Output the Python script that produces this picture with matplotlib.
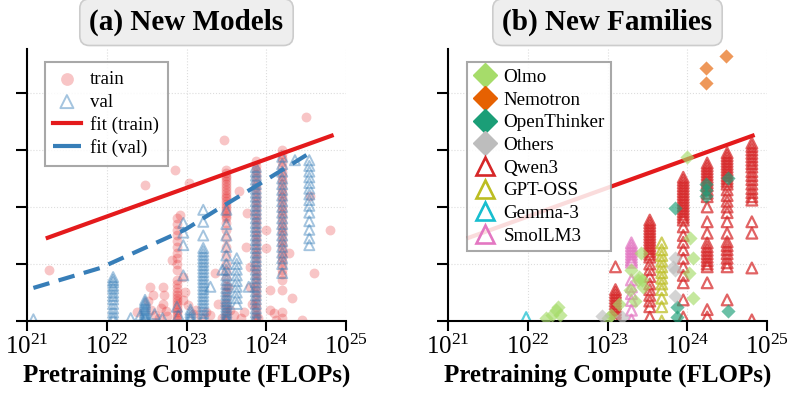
import numpy as np
import matplotlib
matplotlib.use("Agg")
import matplotlib.pyplot as plt
from matplotlib.lines import Line2D

plt.rcParams["font.family"] = ["Liberation Serif", "DejaVu Serif"]
plt.rcParams["mathtext.fontset"] = "stix"

# ---------------- (a) New Models: log10(compute) and metric ----------------
train_cols_exp = [23.50, 23.87, 24.20, 22.88]
train_cols_vals = [
    [2.65, 2.6, 2.55, 2.5, 2.45, 2.4, 2.35, 2.3, 2.25, 2.2, 2.15, 2.1, 2.05, 2.0, 1.95, 1.9, 1.85, 1.8,
     1.72, 1.6, 1.45, 1.3, 1.15, 1.0, 0.88, 0.75, 0.62, 0.5, 0.4, 0.3, 0.22, 0.15, 0.08, 0.03],
    [2.8, 2.72, 2.65, 2.58, 2.5, 2.42, 2.35, 2.28, 2.2, 2.12, 2.05, 1.98, 1.9, 1.82, 1.75, 1.68, 1.6,
     1.52, 1.45, 1.38, 1.3, 1.22, 1.15, 1.08, 1.0, 0.92, 0.85, 0.78, 0.7, 0.62, 0.55, 0.48, 0.4, 0.32,
     0.25, 0.18, 0.1, 0.05],
    [3.0, 2.92, 2.85, 2.78, 2.7, 2.62, 2.55, 2.48, 2.4, 2.32, 2.25, 2.18, 2.1, 2.02, 1.95, 1.88, 1.8,
     1.72, 1.65, 1.58, 1.5, 1.42, 1.35, 1.28, 1.2, 1.12, 1.05, 0.98, 0.9, 0.82, 0.72, 0.54, 0.15, 0.05],
    [1.8, 1.7, 1.6, 1.5, 1.4, 1.3, 1.2, 1.1, 1.0, 0.9, 0.72, 0.65, 0.58, 0.5, 0.45, 0.4, 0.35, 0.3,
     0.25, 0.2, 0.15, 0.1, 0.05, 0.02],
]
train_pts_exp = [21.28, 22.38, 22.48, 22.52, 22.55, 22.58, 22.60, 22.54, 22.65, 22.70, 22.72, 22.70,
                 22.74, 22.68, 22.76, 22.82, 22.85, 22.92, 22.95, 22.98, 22.96, 23.03, 23.02, 23.08,
                 23.12, 23.18, 23.25, 23.30, 23.36, 23.40, 23.45, 23.47, 23.52, 23.55, 23.60, 23.66,
                 23.68, 23.72, 23.76, 23.75, 23.80, 23.80, 23.82, 24.00, 24.00, 24.05, 24.10, 24.12,
                 24.28, 24.32, 24.45, 24.50, 24.55, 24.60, 24.80, 23.90, 24.05]
train_pts_y = [0.90, 0.16, 2.38, 0.35, 0.20, 0.45, 0.10, 0.60, 0.05, 0.60, 0.45, 0.30,
               0.18, 0.23, 0.08, 1.07, 2.65, 1.86, 0.77, 0.50, 0.37, 2.42, 0.28, 0.12,
               0.20, 0.05, 0.15, 0.10, 0.84, 0.30, 0.05, 3.18, 0.60, 0.20, 0.10, 2.28,
               0.05, 0.15, 1.90, 1.30, 0.95, 0.60, 0.30, 1.60, 1.28, 0.54, 0.14, 0.02,
               1.20, 0.40, 0.02, 3.58, 2.20, 0.84, 1.60, 0.05, 0.20]

val_cols_exp = [22.08, 22.48, 23.05, 23.21, 23.50, 23.63, 23.87, 24.20, 24.54]
val_cols_vals = [
    [0.77, 0.72, 0.68, 0.62, 0.57, 0.5, 0.44, 0.38, 0.3, 0.22, 0.15, 0.08, 0.02],
    [0.37, 0.33, 0.3, 0.26, 0.22, 0.19, 0.15, 0.12, 0.08, 0.05, 0.02],
    [0.2, 0.15, 0.1, 0.06, 0.02],
    [1.95, 1.74, 1.5, 1.28, 1.22, 1.16, 1.1, 1.04, 0.98, 0.92, 0.86, 0.8, 0.74, 0.68, 0.62, 0.56, 0.5,
     0.44, 0.38, 0.32, 0.26, 0.2, 0.14, 0.08, 0.03],
    [1.95, 1.7, 1.5, 1.3, 1.15, 1.0, 0.9, 0.8, 0.72, 0.65, 0.58, 0.52, 0.46, 0.4, 0.35, 0.3, 0.25, 0.2,
     0.15, 0.1, 0.05, 0.02],
    [1.1, 1.0, 0.9, 0.8, 0.7, 0.6, 0.5, 0.4, 0.3],
    [2.7, 2.62, 2.55, 2.48, 2.4, 2.32, 2.25, 2.18, 2.1, 2.02, 1.95, 1.88, 1.8, 1.72, 1.65, 1.58, 1.5,
     1.42, 1.35, 1.28, 1.2, 1.12, 1.05, 0.98, 0.9, 0.82, 0.75, 0.68, 0.6, 0.52, 0.45, 0.38, 0.3, 0.22,
     0.15, 0.08, 0.02],
    [2.88, 2.75, 2.62, 2.5, 2.4, 2.3, 2.2, 2.1, 2.0, 1.9, 1.8, 1.7, 1.6, 1.5, 1.4, 1.3, 1.2, 1.1, 1.0, 0.84],
    [2.82, 2.72, 2.62, 2.52, 2.42, 2.32, 2.22, 2.12, 2.02, 1.9, 1.75, 1.6, 1.45, 1.33],
]
val_pts_exp = [21.08, 22.30, 22.42, 22.70, 22.96, 22.96, 22.96, 22.96, 22.88, 22.90, 22.60, 23.30,
               23.78, 24.36, 23.45]
val_pts_y = [0.03, 0.05, 0.10, 0.05, 1.72, 1.55, 1.33, 0.80, 0.25, 0.10, 0.12, 0.60,
             0.60, 2.82, 0.90]

fit_train_exp = [21.26, 24.82]
fit_train_y = [1.46, 3.25]
fit_val_exp = [21.08, 21.92, 22.98, 23.38, 23.83, 24.26, 24.55]
fit_val_y = [0.58, 0.93, 1.60, 1.95, 2.33, 2.70, 2.95]

# ---------------- (b) New Families ----------------
qwen_cols_exp = [23.10, 23.53, 23.95, 24.25, 24.50, 24.81]
qwen_cols_vals = [
    [0.55, 0.5, 0.45, 0.4, 0.35, 0.3, 0.25, 0.2, 0.15, 0.1, 0.05, 0.0, 0.95],
    [1.77, 1.72, 1.67, 1.62, 1.57, 1.52, 1.47, 1.42, 1.37, 1.32, 1.27, 1.22, 1.17, 1.12, 1.0, 0.9,
     0.78, 0.65, 0.55, 0.45, 0.35, 0.25, 0.07],
    [2.52, 2.47, 2.42, 2.37, 2.32, 2.27, 2.22, 2.17, 2.12, 2.07, 2.02, 1.97, 1.92, 1.87, 1.82, 1.77,
     1.65, 1.5, 1.38, 1.25, 1.1, 0.95, 0.8, 0.67, 0.37, 0.07],
    [2.77, 2.72, 2.67, 2.62, 2.57, 2.52, 2.47, 2.42, 2.37, 2.3, 2.24, 2.18, 2.0, 1.74, 1.54, 1.37,
     1.3, 1.24, 1.18, 1.12, 1.06, 1.0, 0.95, 0.67, 0.2, 0.07],
    [2.95, 2.9, 2.85, 2.8, 2.75, 2.7, 2.65, 2.6, 2.55, 2.5, 2.45, 2.4, 2.3, 2.2, 2.1, 2.0, 1.9, 1.74,
     1.54, 1.39, 1.32, 1.25, 1.18, 1.1, 1.02, 0.95, 0.37],
    [3.12, 3.06, 3.0, 2.94, 2.88, 2.82, 2.76, 2.7, 2.62, 2.55, 2.48, 2.4, 2.32, 2.25, 2.18, 2.12,
     1.74, 1.54, 0.93, 0.02],
]
gptoss_exp = [23.68] * 12
gptoss_y = [0.0, 0.25, 0.4, 0.55, 0.65, 0.75, 0.85, 0.95, 1.05, 1.15, 1.25, 1.37]
gemma_exp = [21.98]
gemma_y = [0.06]
smol_exp = [23.30] * 14
smol_y = [1.37, 1.32, 1.27, 1.22, 1.17, 1.12, 1.07, 1.03, 0.72, 0.6, 0.48, 0.36, 0.19, 0.02]

olmo_exp = [22.23, 22.30, 22.35, 22.38, 22.40, 23.00, 23.05, 23.15, 23.30, 23.28, 23.42, 23.43,
            23.45, 23.35, 23.38, 23.40, 24.00, 24.03, 24.07, 24.02, 24.07]
olmo_y = [0.05, 0.10, 0.20, 0.25, 0.10, 0.05, 0.10, 0.30, 0.90, 0.54, 1.20, 0.72,
          0.60, 0.35, 0.72, 0.78, 2.88, 1.45, 1.10, 0.84, 0.40]
nemotron_exp = [24.24, 24.24, 24.48]
nemotron_y = [4.44, 4.18, 4.65]
openthinker_exp = [23.87, 23.87, 23.85, 24.24, 24.24, 24.24, 24.51, 24.51]
openthinker_y = [0.25, 0.07, 1.98, 2.30, 2.40, 2.20, 2.50, 0.18]
others_exp = [22.93, 23.18, 23.85, 23.85, 23.85, 23.82]
others_y = [0.08, 0.07, 1.10, 0.90, 0.43, 0.95]

RED = "#e41a1c"
BLUE = "#377eb8"
fam_colors = {"Olmo": "#a6dc6a", "Nemotron": "#e66101", "OpenThinker": "#1b9e77",
              "Others": "#bdbdbd", "Qwen3": "#d62728", "GPT-OSS": "#bcbd22",
              "Gemma-3": "#17becf", "SmolLM3": "#e377c2"}


def expand(cols_exp, cols_vals):
    xs, ys = [], []
    for e, vals in zip(cols_exp, cols_vals):
        xs += [e] * len(vals)
        ys += vals
    return np.array(xs), np.array(ys)


def style_axes(ax, title):
    ax.set_xscale("log")
    ax.set_xlim(1e21, 1e25)
    ax.set_ylim(0, 4.77)
    ax.set_xticks([1e21, 1e22, 1e23, 1e24, 1e25])
    ax.set_yticks([0, 1, 2, 3, 4])
    ax.set_yticklabels([])
    ax.minorticks_off()
    ax.tick_params(axis="x", labelsize=18, length=7, width=1.5, pad=3)
    ax.tick_params(axis="y", length=8, width=1.5)
    for s in ["top", "right"]:
        ax.spines[s].set_visible(False)
    for s in ["left", "bottom"]:
        ax.spines[s].set_linewidth(1.5)
    ax.grid(True, linestyle=":", color="#dddddd", linewidth=0.8)
    ax.set_axisbelow(True)
    ax.set_xlabel("Pretraining Compute (FLOPs)", fontsize=18, fontweight="bold", labelpad=3)
    ax.set_title(title, fontsize=21, fontweight="bold", pad=14,
                 bbox=dict(boxstyle="round,pad=0.33", fc="#eeeeee", ec="#cccccc", lw=1.2))


fig = plt.figure(figsize=(7.94, 3.96), dpi=100)
ax1 = fig.add_axes([27 / 794, 75 / 396, 319 / 794, 272 / 396])
ax2 = fig.add_axes([448 / 794, 75 / 396, 319 / 794, 272 / 396])

# panel (a)
tx, ty = expand(train_cols_exp, train_cols_vals)
tx = np.concatenate([tx, train_pts_exp])
ty = np.concatenate([ty, train_pts_y])
vx, vy = expand(val_cols_exp, val_cols_vals)
vx = np.concatenate([vx, val_pts_exp])
vy = np.concatenate([vy, val_pts_y])

h_train = ax1.scatter(10 ** tx, ty, s=50, color=RED, alpha=0.25, lw=0)
h_val = ax1.scatter(10 ** vx, vy, s=52, marker="^", facecolors="none", edgecolors=BLUE,
                    alpha=0.45, linewidths=1.4)
h_fit_t, = ax1.plot(10 ** np.array(fit_train_exp), fit_train_y, color=RED, lw=3)
ax1.plot(10 ** np.array(fit_val_exp), fit_val_y, color=BLUE, lw=3, dashes=(4, 2.3))
h_fit_v = Line2D([], [], color=BLUE, lw=3, dashes=(7, 2))
style_axes(ax1, "(a) New Models")
leg1 = ax1.legend([h_train, h_val, h_fit_t, h_fit_v], ["train", "val", "fit (train)", "fit (val)"],
                  loc="upper left", bbox_to_anchor=(0.055, 0.952), fontsize=13.7,
                  labelspacing=0.28, handlelength=1.45, handletextpad=0.5, borderpad=0.45,
                  fancybox=False, edgecolor="#999999", framealpha=0.85, borderaxespad=0,
                  markerscale=1.3)
leg1.get_frame().set_linewidth(1.5)

# panel (b)
ax2.plot(10 ** np.array(fit_train_exp), fit_train_y, color=RED, lw=3, zorder=1)
qx, qy = expand(qwen_cols_exp, qwen_cols_vals)
diamonds = [("Olmo", olmo_exp, olmo_y), ("Nemotron", nemotron_exp, nemotron_y),
            ("OpenThinker", openthinker_exp, openthinker_y), ("Others", others_exp, others_y)]
triangles = [("Qwen3", qx, qy), ("GPT-OSS", gptoss_exp, gptoss_y),
             ("Gemma-3", gemma_exp, gemma_y), ("SmolLM3", smol_exp, smol_y)]
for name, ex, yy in triangles:
    ax2.scatter(10 ** np.array(ex), yy, s=60, marker="^", facecolors="none",
                edgecolors=fam_colors[name], alpha=0.72, linewidths=1.6, zorder=2)
for name, ex, yy in diamonds:
    ax2.scatter(10 ** np.array(ex), yy, s=52, marker="D", color=fam_colors[name],
                alpha=0.65, lw=0, zorder=3)
style_axes(ax2, "(b) New Families")
handles = [Line2D([], [], ls="", marker="D", ms=12, color=fam_colors[n], mec=fam_colors[n])
           for n, _, _ in diamonds]
handles += [Line2D([], [], ls="", marker="^", ms=13, mfc="none", mew=1.9, mec=fam_colors[n])
            for n, _, _ in triangles]
labels = [n for n, _, _ in diamonds] + [n for n, _, _ in triangles]
leg = ax2.legend(handles, labels, loc="upper left", bbox_to_anchor=(0.06, 0.952), fontsize=13.7,
                 labelspacing=0.28, handlelength=1.2, handletextpad=0.35, borderpad=0.35,
                 fancybox=False, edgecolor="#999999", framealpha=0.85, borderaxespad=0)
leg.get_frame().set_linewidth(1.5)

fig.savefig("out.png", dpi=100)
